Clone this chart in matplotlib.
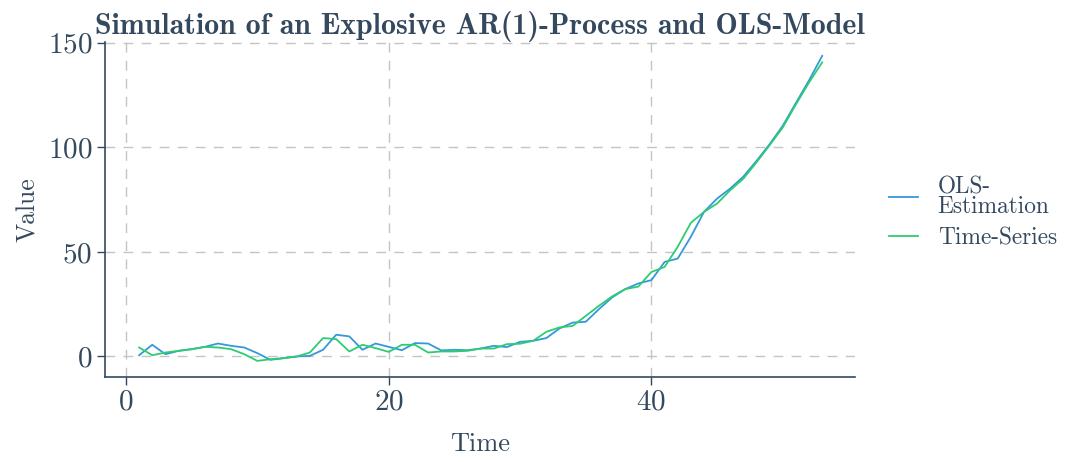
import matplotlib
matplotlib.use("Agg")
import matplotlib.pyplot as plt

plt.rcParams['font.family'] = ['cmr10', 'DejaVu Serif']
plt.rcParams['mathtext.fontset'] = 'cm'
plt.rcParams['axes.formatter.use_mathtext'] = True

time = list(range(1, 54))
time_series = [4.3, 0.6, 1.9, 2.7, 3.5, 4.6, 4.3, 3.5, 1.1, -2.1,
               -1.3, -0.8, 0.0, 1.9, 8.8, 8.3, 2.4, 5.6, 4.0, 2.2,
               5.6, 5.6, 1.9, 2.4, 2.4, 2.7, 3.8, 3.8, 5.9, 6.1,
               7.5, 11.8, 13.9, 14.6, 19.4, 24.2, 28.7, 32.2, 33.4, 40.4,
               42.8, 52.4, 63.9, 69.1, 73.1, 79.5, 85.0, 92.8, 101.0, 109.5,
               120.5, 131.0, 140.6]
ols_estimation = [0.6, 5.6, 1.1, 2.7, 3.5, 4.6, 6.2, 5.1, 4.3, 1.6,
                  -1.6, -0.8, 0.0, 0.3, 3.2, 10.4, 9.6, 3.2, 6.2, 4.6,
                  3.0, 6.4, 6.2, 2.9, 3.2, 3.0, 3.8, 5.1, 4.5, 7.0,
                  7.5, 8.8, 13.4, 16.2, 16.6, 22.6, 28.2, 32.2, 34.9, 36.5,
                  45.2, 46.8, 57.2, 69.1, 75.5, 80.3, 86.0, 93.5, 101.5, 110.3,
                  121.2, 132.0, 143.7]
x_ticks = [0, 20, 40]
y_ticks = [0, 50, 100, 150]

text_col = '#34495e'
blue = '#3498db'
green = '#2ecc71'

fig = plt.figure(figsize=(10.68, 4.62), dpi=100)
ax = fig.add_axes([0.0983, 0.184, 0.7023, 0.725])

ax.plot(time, ols_estimation, color=blue, lw=1.3, label='OLS-\nEstimation')
ax.plot(time, time_series, color=green, lw=1.3, label='Time-Series')

ax.set_xlim(-1.6, 55.5)
ax.set_ylim(-9.8, 150.3)
ax.set_xticks(x_ticks)
ax.set_yticks(y_ticks)

ax.grid(True, color='#c4c4c4', linestyle=(0, (7, 6)), linewidth=1.0)
ax.set_axisbelow(True)
for s in ['top', 'right']:
    ax.spines[s].set_visible(False)
for s in ['left', 'bottom']:
    ax.spines[s].set_color(text_col)
    ax.spines[s].set_linewidth(1.2)
ax.tick_params(colors=text_col, labelsize=21, length=6, width=1.0, pad=3)

ax.set_xlabel('Time', fontsize=19, color=text_col, labelpad=12)
ax.set_ylabel('Value', fontsize=18.5, color=text_col, labelpad=6)
ax.set_title('Simulation of an Explosive AR(1)-Process and OLS-Model',
             fontsize=21.5, color=text_col, fontname='cmb10', pad=6)

leg = fig.legend(loc='center left', bbox_to_anchor=(0.8125, 0.54), frameon=False,
                 fontsize=16.8, handlelength=1.25, labelspacing=0.4, handletextpad=0.85)
for t in leg.get_texts():
    t.set_color(text_col)
    t.set_linespacing(0.85)

fig.savefig('out.png', dpi=100)
